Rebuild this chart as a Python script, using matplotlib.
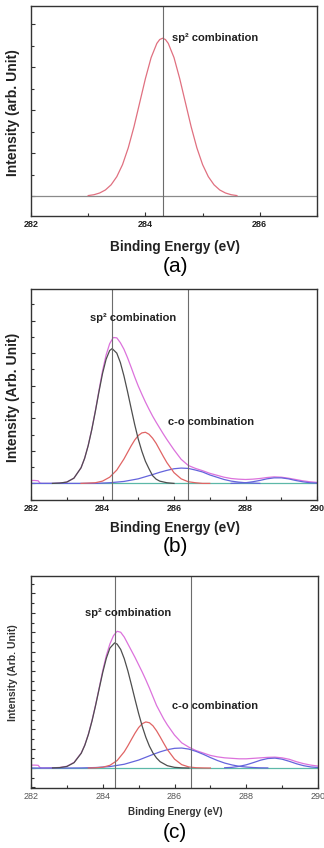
import matplotlib as mpl
mpl.use('Agg')
import matplotlib.pyplot as plt
from matplotlib.ticker import MultipleLocator

plt.rcParams['font.family'] = ['Liberation Sans', 'DejaVu Sans']

# ---- panel (a): single sp2 peak ----
a_x = [283.0, 283.1, 283.2, 283.3, 283.4, 283.5, 283.6, 283.7, 283.8, 283.9,
       284.0, 284.1, 284.2, 284.25, 284.3, 284.35, 284.4, 284.5, 284.6, 284.7,
       284.8, 284.9, 285.0, 285.1, 285.2, 285.3, 285.4, 285.5, 285.6]
a_y = [0.01, 0.03, 0.07, 0.14, 0.26, 0.45, 0.73, 1.12, 1.61, 2.17,
       2.73, 3.22, 3.55, 3.64, 3.67, 3.64, 3.55, 3.22, 2.73, 2.17,
       1.61, 1.12, 0.73, 0.45, 0.26, 0.14, 0.07, 0.03, 0.01]
a_base_x = [282.0, 287.0]
a_base_y = [0.0, 0.0]
a_line = 284.3

# ---- shared energy grid for the measured envelopes (b) and (c) ----
env_x = [282.0, 282.1, 282.2, 282.25, 282.3, 282.6, 282.8, 283.0, 283.2, 283.4,
         283.5, 283.6, 283.7, 283.8, 283.9, 284.0, 284.1, 284.2, 284.3, 284.4,
         284.5, 284.6, 284.7, 284.8, 284.9, 285.0, 285.1, 285.2, 285.3, 285.4,
         285.5, 285.6, 285.7, 285.8, 286.0, 286.2, 286.4, 286.6, 286.8, 287.0,
         287.2, 287.4, 287.6, 287.8, 288.0, 288.2, 288.4, 288.6, 288.8, 289.0,
         289.2, 289.4, 289.6, 289.8, 290.0]

# ---- panel (b) ----
b_env = [0.09, 0.09, 0.08, 0.01, 0.00, 0.00, 0.01, 0.04, 0.16, 0.48,
         0.77, 1.17, 1.66, 2.23, 2.85, 3.45, 3.94, 4.29, 4.48, 4.47,
         4.32, 4.12, 3.86, 3.57, 3.27, 2.99, 2.74, 2.50, 2.28, 2.07,
         1.88, 1.70, 1.52, 1.35, 1.03, 0.74, 0.55, 0.46, 0.39, 0.31,
         0.25, 0.19, 0.15, 0.13, 0.12, 0.13, 0.15, 0.18, 0.20, 0.19,
         0.16, 0.12, 0.08, 0.05, 0.03]
b_black_x = [282.6, 282.8, 283.0, 283.2, 283.4, 283.5, 283.6, 283.7, 283.8, 283.9,
             284.0, 284.1, 284.2, 284.27, 284.4, 284.5, 284.6, 284.7, 284.8, 284.9,
             285.0, 285.1, 285.2, 285.3, 285.4, 285.5, 285.6, 285.8, 286.0]
b_black_y = [0.00, 0.01, 0.04, 0.16, 0.48, 0.77, 1.16, 1.65, 2.21, 2.81,
             3.37, 3.81, 4.08, 4.14, 4.00, 3.71, 3.30, 2.82, 2.31, 1.81,
             1.36, 0.99, 0.68, 0.45, 0.24, 0.13, 0.07, 0.02, 0.00]
b_red_x = [283.4, 283.6, 283.8, 284.0, 284.2, 284.4, 284.6, 284.7, 284.8, 284.9,
           285.0, 285.1, 285.2, 285.3, 285.4, 285.5, 285.6, 285.7, 285.8, 286.0,
           286.2, 286.4, 286.6, 286.8, 287.0]
b_red_y = [0.00, 0.01, 0.02, 0.07, 0.19, 0.41, 0.75, 0.95, 1.15, 1.33,
           1.47, 1.55, 1.57, 1.51, 1.39, 1.23, 1.03, 0.83, 0.64, 0.33,
           0.14, 0.05, 0.02, 0.00, 0.00]
b_blue_x = [282.0, 282.5, 283.0, 283.4, 283.8, 284.2, 284.6, 285.0, 285.4, 285.6,
            285.8, 286.0, 286.2, 286.4, 286.6, 286.8, 287.0, 287.2, 287.4, 287.6,
            287.8, 288.0, 288.2, 288.4]
b_blue_y = [0.00, 0.00, 0.00, 0.00, 0.00, 0.02, 0.06, 0.14, 0.27, 0.34,
            0.40, 0.45, 0.47, 0.46, 0.41, 0.35, 0.26, 0.19, 0.12, 0.07,
            0.04, 0.02, 0.01, 0.00]
b_bump_x = [287.6, 287.8, 288.0, 288.2, 288.4, 288.6, 288.8, 289.0, 289.2, 289.4,
            289.6, 289.8, 290.0]
b_bump_y = [0.00, 0.01, 0.02, 0.05, 0.09, 0.14, 0.17, 0.17, 0.14, 0.09,
            0.05, 0.02, 0.01]
b_lines = [284.27, 286.4]

# ---- panel (c) ----
c_env = [0.30, 0.30, 0.28, 0.05, 0.00, 0.02, 0.06, 0.18, 0.58, 1.55,
         2.38, 3.50, 4.90, 6.50, 8.25, 10.05, 11.60, 12.80, 13.65, 14.10,
         14.00, 13.50, 12.80, 12.10, 11.40, 10.65, 9.90, 9.10, 8.25, 7.35,
         6.45, 5.75, 5.05, 4.45, 3.40, 2.60, 2.15, 1.80, 1.55, 1.30,
         1.15, 1.05, 1.00, 0.95, 0.95, 1.00, 1.05, 1.10, 1.12, 1.05,
         0.90, 0.65, 0.45, 0.30, 0.20]
c_black_x = [282.6, 282.8, 283.0, 283.2, 283.4, 283.5, 283.6, 283.7, 283.8, 283.9,
             284.0, 284.1, 284.2, 284.33, 284.4, 284.5, 284.6, 284.7, 284.8, 284.9,
             285.0, 285.1, 285.2, 285.3, 285.4, 285.5, 285.6, 285.8, 286.0, 286.2,
             286.4]
c_black_y = [0.01, 0.04, 0.16, 0.55, 1.52, 2.35, 3.46, 4.84, 6.45, 8.17,
             9.86, 11.32, 12.37, 12.90, 12.78, 12.23, 11.27, 10.02, 8.57, 7.07,
             5.62, 4.31, 3.18, 2.26, 1.55, 1.03, 0.65, 0.24, 0.07, 0.02,
             0.00]
c_red_x = [283.6, 283.8, 284.0, 284.2, 284.4, 284.6, 284.7, 284.8, 284.9, 285.0,
           285.1, 285.2, 285.3, 285.4, 285.5, 285.6, 285.7, 285.8, 286.0, 286.2,
           286.4, 286.6, 286.8, 287.0]
c_red_y = [0.00, 0.02, 0.08, 0.28, 0.77, 1.68, 2.29, 2.95, 3.60, 4.17,
           4.57, 4.75, 4.67, 4.35, 3.84, 3.21, 2.55, 1.91, 0.92, 0.35,
           0.11, 0.03, 0.01, 0.00]
c_blue_x = [282.0, 282.5, 283.0, 283.4, 283.8, 284.2, 284.6, 285.0, 285.4, 285.6,
            285.8, 286.0, 286.2, 286.4, 286.6, 286.8, 287.0, 287.2, 287.4, 287.6,
            287.8, 288.0, 288.2, 288.4, 288.6]
c_blue_y = [0.00, 0.00, 0.00, 0.01, 0.05, 0.15, 0.39, 0.82, 1.40, 1.67,
            1.89, 2.03, 2.06, 1.95, 1.72, 1.42, 1.08, 0.77, 0.51, 0.32,
            0.18, 0.10, 0.05, 0.02, 0.01]
c_bump_x = [287.4, 287.6, 287.8, 288.0, 288.2, 288.4, 288.6, 288.8, 289.0, 289.2,
            289.4, 289.6, 289.8, 290.0]
c_bump_y = [0.03, 0.07, 0.17, 0.33, 0.56, 0.81, 0.98, 1.02, 0.91, 0.69,
            0.44, 0.24, 0.11, 0.05]
c_lines = [284.33, 286.47]

base_x = [282.0, 290.0]
base_y = [0.0, 0.0]

col_env = '#dc72dc'
col_black = '#4e4e4e'
col_red = '#e06464'
col_blue = '#6464dc'
col_base = '#5cb8a8'
col_vline = '#6c6c6c'
lw = 0.9

W, H = 324.0, 848.0
fig = plt.figure(figsize=(W / 100, H / 100), dpi=100)


def pos(left, top, right, bottom):
    return [left / W, 1 - bottom / H, (right - left) / W, (bottom - top) / H]


def style(ax, xlim, ylim, ymaj, ymin, bold, tickcol):
    ax.set_xlim(xlim)
    ax.set_ylim(ylim)
    ax.xaxis.set_major_locator(MultipleLocator(2))
    ax.xaxis.set_minor_locator(MultipleLocator(1))
    ax.yaxis.set_major_locator(MultipleLocator(ymaj))
    ax.yaxis.set_minor_locator(MultipleLocator(ymin))
    ax.tick_params(which='both', direction='in', top=False, right=False,
                   labelleft=False, colors='#333333')
    ax.tick_params(which='major', length=3, width=0.8)
    ax.tick_params(which='minor', length=2, width=0.8)
    ax.tick_params(axis='x', labelsize=6.5, pad=3, labelcolor=tickcol)
    for lab in ax.get_xticklabels():
        lab.set_fontweight('bold' if bold else 'normal')
    for s in ax.spines.values():
        s.set_linewidth(1.0)
        s.set_color('#333333')


# (a)
ax1 = fig.add_axes(pos(31, 6, 317, 216))
ax1.plot(a_base_x, a_base_y, color='#8a8a8a', lw=lw)
ax1.plot(a_x, a_y, color='#e07080', lw=lw)
ax1.axvline(a_line, color=col_vline, lw=0.8)
style(ax1, (282, 287), (-0.465, 4.42), 1, 0.5, True, '#222222')
ax1.text(284.46, 3.67, 'sp² combination', fontsize=8, fontweight='bold',
         va='center', ha='left', color='#222222')

# (b)
ax2 = fig.add_axes(pos(31, 289, 317, 500))
ax2.plot(base_x, base_y, color=col_base, lw=lw)
ax2.plot(env_x, b_env, color=col_env, lw=lw)
ax2.plot(b_blue_x, b_blue_y, color=col_blue, lw=lw)
ax2.plot(b_bump_x, b_bump_y, color=col_blue, lw=lw)
ax2.plot(b_red_x, b_red_y, color=col_red, lw=lw)
ax2.plot(b_black_x, b_black_y, color=col_black, lw=lw)
for xv in b_lines:
    ax2.axvline(xv, color=col_vline, lw=0.8)
style(ax2, (282, 290), (-0.51, 5.97), 1, 0.5, True, '#222222')
ax2.text(283.65, 5.09, 'sp² combination', fontsize=8, fontweight='bold',
         va='center', ha='left', color='#222222')
ax2.text(285.83, 1.9, 'c-o combination', fontsize=8, fontweight='bold',
         va='center', ha='left', color='#222222')

# (c)
ax3 = fig.add_axes(pos(31, 576, 318, 788))
ax3.plot(base_x, base_y, color=col_base, lw=lw)
ax3.plot(env_x, c_env, color=col_env, lw=lw)
ax3.plot(c_blue_x, c_blue_y, color=col_blue, lw=lw)
ax3.plot(c_bump_x, c_bump_y, color=col_blue, lw=lw)
ax3.plot(c_red_x, c_red_y, color=col_red, lw=lw)
ax3.plot(c_black_x, c_black_y, color=col_black, lw=lw)
for xv in c_lines:
    ax3.axvline(xv, color=col_vline, lw=0.8)
style(ax3, (282, 290), (-2.06, 19.8), 2, 1, False, '#555555')
ax3.text(283.5, 16.0, 'sp² combination', fontsize=8, fontweight='bold',
         va='center', ha='left', color='#222222')
ax3.text(285.93, 6.4, 'c-o combination', fontsize=8, fontweight='bold',
         va='center', ha='left', color='#222222')

# axis titles and panel letters
fig.text(13 / W, 1 - 113 / H, 'Intensity (arb. Unit)', rotation=90, fontsize=10,
         fontweight='bold', ha='center', va='center', color='#222222')
fig.text(13 / W, 1 - 397 / H, 'Intensity (Arb. Unit)', rotation=90, fontsize=10,
         fontweight='bold', ha='center', va='center', color='#222222')
fig.text(13 / W, 1 - 673 / H, 'Intensity (Arb. Unit)', rotation=90, fontsize=7.5,
         fontweight='bold', ha='center', va='center', color='#333333')

fig.text(175 / W, 1 - 247 / H, 'Binding Energy (eV)', fontsize=9.8,
         fontweight='bold', ha='center', va='center', color='#222222')
fig.text(175 / W, 1 - 528 / H, 'Binding Energy (eV)', fontsize=9.8,
         fontweight='bold', ha='center', va='center', color='#222222')
fig.text(175 / W, 1 - 812 / H, 'Binding Energy (eV)', fontsize=7.1,
         fontweight='bold', ha='center', va='center', color='#333333')

fig.text(175 / W, 1 - 267 / H, '(a)', fontsize=15, ha='center', va='center')
fig.text(175 / W, 1 - 547 / H, '(b)', fontsize=15, ha='center', va='center')
fig.text(175 / W, 1 - 833 / H, '(c)', fontsize=15, ha='center', va='center')

fig.savefig('out.png', dpi=100)
